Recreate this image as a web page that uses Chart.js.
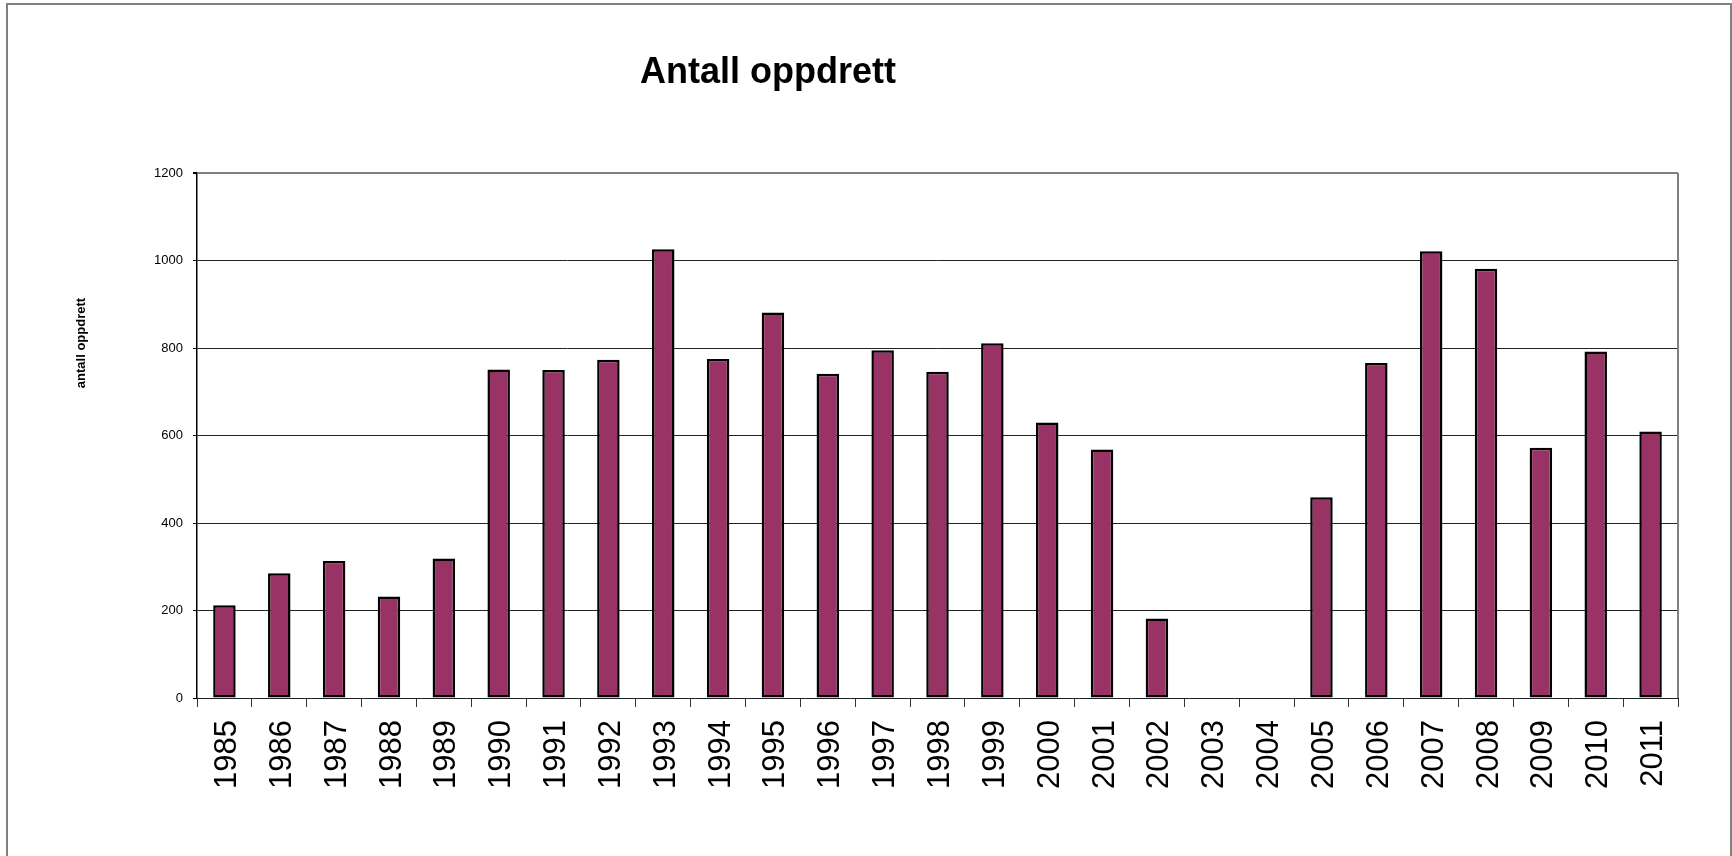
<!DOCTYPE html>
<html>
<head>
<meta charset="utf-8">
<title>Antall oppdrett</title>
<script src="https://cdn.jsdelivr.net/npm/chart.js@4.4.1/dist/chart.umd.min.js"></script>
<style>
  html, body { margin: 0; padding: 0; background: #fff; overflow: hidden; }
  #wrap { position: relative; width: 1732px; height: 856px; }
</style>
</head>
<body>
<div id="wrap"><canvas id="chart"></canvas></div>
<script>
// data
const years = ['1985','1986','1987','1988','1989','1990','1991','1992','1993','1994',
               '1995','1996','1997','1998','1999','2000','2001','2002','2003','2004',
               '2005','2006','2007','2008','2009','2010','2011'];
const oppdrett = [212, 285, 313, 232, 319, 751, 750, 773, 1026, 775,
                  881, 741, 795, 746, 811, 630, 568, 182, null, null,
                  459, 766, 1021, 981, 572, 792, 609];
const yTicks = [0, 200, 400, 600, 800, 1000, 1200];

const chartTitle = 'Antall oppdrett';
const yTitle = 'antall oppdrett';
const FONT = '"Liberation Sans", Arial, sans-serif';

// outer frame, plot border, title and the y axis title (off centre in the original)
const framePlugin = {
  id: 'frame',
  beforeDraw(chart) {
    const ctx = chart.ctx;
    ctx.save();
    ctx.fillStyle = '#fff';
    ctx.fillRect(0, 0, chart.width, chart.height);
    ctx.strokeStyle = '#808080';
    ctx.lineWidth = 2;
    ctx.strokeRect(7, 4, 1724, 900);
    ctx.restore();
  },
  afterDraw(chart) {
    const ctx = chart.ctx;
    const a = chart.chartArea;
    ctx.save();
    ctx.strokeStyle = '#808080';
    ctx.lineWidth = 2;
    ctx.beginPath();
    ctx.moveTo(a.right, a.top);
    ctx.lineTo(a.right, a.bottom);
    ctx.stroke();

    ctx.fillStyle = '#000';
    ctx.font = 'bold 36px ' + FONT;
    ctx.textAlign = 'center';
    ctx.textBaseline = 'alphabetic';
    ctx.fillText(chartTitle, 768, 83);

    ctx.translate(81, 343);
    ctx.rotate(-Math.PI / 2);
    ctx.font = 'bold 13px ' + FONT;
    ctx.textBaseline = 'middle';
    ctx.fillText(yTitle, 0, 0);
    ctx.restore();
  }
};

new Chart(document.getElementById('chart'), {
  type: 'bar',
  data: {
    labels: years,
    datasets: [{
      label: yTitle,
      data: oppdrett,
      backgroundColor: '#993366',
      borderColor: '#000',
      borderWidth: 2.5,
      borderSkipped: false,
      categoryPercentage: 1,
      barPercentage: 0.41
    }]
  },
  options: {
    responsive: true,
    maintainAspectRatio: false,
    animation: false,
    layout: { padding: { left: 0, top: 173, right: 54, bottom: 0 } },
    plugins: {
      legend: { display: false },
      title: { display: false },
      tooltip: { enabled: false }
    },
    scales: {
      x: {
        afterFit: s => { s.height = 158; },
        grid: {
          drawOnChartArea: false,
          drawTicks: true,
          tickLength: 9,
          tickColor: '#333'
        },
        border: { color: '#222', width: 1 },
        ticks: {
          minRotation: 90,
          maxRotation: 90,
          autoSkip: false,
          padding: 13,
          labelOffset: 3,
          color: '#000',
          font: { family: FONT, size: 31 }
        }
      },
      y: {
        min: 0,
        max: 1200,
        afterFit: s => { s.width = 197; },
        afterBuildTicks: s => { s.ticks = yTicks.map(v => ({ value: v })); },
        grid: {
          color: c => (c.tick && c.tick.value === 1200) ? '#808080' : '#222',
          lineWidth: c => (c.tick && c.tick.value === 1200) ? 2 : 1,
          tickLength: 4,
          tickColor: '#000'
        },
        border: { color: '#000', width: 1.5 },
        ticks: {
          padding: 10,
          color: '#000',
          font: { family: FONT, size: 13 },
          callback: v => String(v)
        }
      }
    }
  },
  plugins: [framePlugin]
});
</script>
</body>
</html>
